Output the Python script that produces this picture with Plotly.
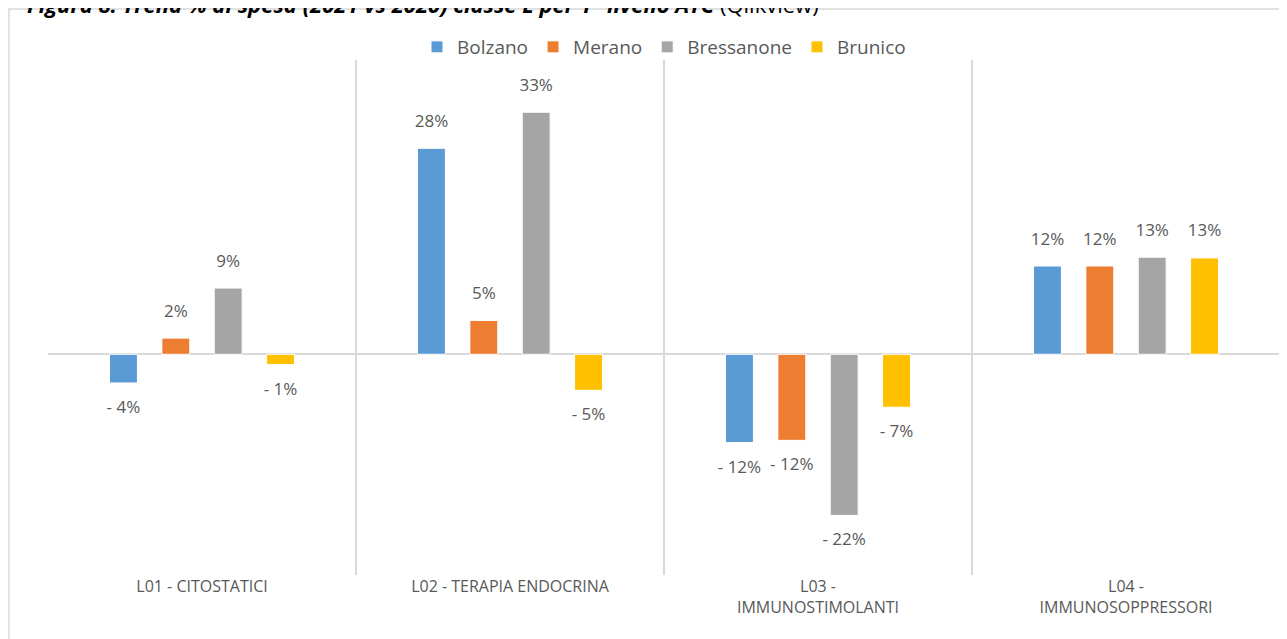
import plotly.graph_objects as go

categories = ["L01 - CITOSTATICI", "L02 - TERAPIA ENDOCRINA", "L03 -<br>IMMUNOSTIMOLANTI", "L04 -<br>IMMUNOSOPPRESSORI"]
series_names = ["Bolzano", "Merano", "Bressanone", "Brunico"]
bolzano = [-3.9, 28.0, -12.0, 12.0]
merano = [2.2, 4.6, -11.7, 12.0]
bressanone = [9.0, 32.9, -21.9, 13.2]
brunico = [-1.4, -4.9, -7.2, 13.1]
colors = ["#5B9BD5", "#ED7D31", "#A5A5A5", "#FFC000"]

title_bold = "Figura 8: Trend % di spesa (2021 vs 2020) classe L per 1° livello ATC"
title_plain = "(Qlikview)"

def fmt(v):
    r = round(v)
    return f"- {abs(r)}%" if r < 0 else f"{r}%"

FONT = "Open Sans, sans-serif"
GRAY = "#595959"

fig = go.Figure()
x = list(range(len(categories)))
all_vals = [bolzano, merano, bressanone, brunico]
for name, vals, col in zip(series_names, all_vals, colors):
    fig.add_trace(go.Bar(
        name=name, x=x, y=vals, offsetgroup=name,
        marker=dict(color=col, line=dict(color="white", width=1)),
        hoverinfo="x+y+name",
    ))
for name, vals in zip(series_names, all_vals):
    fig.add_trace(go.Scatter(
        x=x, y=vals, offsetgroup=name, mode="markers+text", showlegend=False,
        marker=dict(size=26, opacity=0), hoverinfo="skip",
        text=[fmt(v) for v in vals],
        textposition=["bottom center" if v < 0 else "top center" for v in vals],
        textfont=dict(family=FONT, size=17, color=GRAY), cliponaxis=False,
    ))

# page body has an 8px margin, so the figure starts at (8, 8) in the window
OFF = 8
W, H = 1287 - OFF, 639 - OFF
ml, mr, mt, mb = 48 - OFF, 7, 60 - OFF, 64
pw, ph = W - ml - mr, H - mt - mb

fig.update_layout(
    width=W, height=H, autosize=False,
    margin=dict(l=ml, r=mr, t=mt, b=mb, autoexpand=False),
    paper_bgcolor="white", plot_bgcolor="white",
    barmode="group", bargap=0.32, bargroupgap=0.467,
    scattermode="group", scattergap=0.32,
    font=dict(family=FONT, color=GRAY),
    showlegend=True,
    legend=dict(orientation="h", x=0.5, xanchor="center", y=1 + (60 - 47) / ph, yanchor="middle",
                font=dict(family=FONT, size=19, color=GRAY), itemwidth=30, tracegroupgap=0,
                bgcolor="rgba(0,0,0,0)"),
    xaxis=dict(range=[-0.5, 3.5], tickmode="array", tickvals=x, ticktext=categories,
               showgrid=False, zeroline=False, showline=False, ticks="",
               tickfont=dict(family=FONT, size=16, color=GRAY),
               minor=dict(showgrid=True, gridcolor="#D9D9D9", gridwidth=1.5, tick0=-0.5, dtick=1, ticks="")),
    yaxis=dict(range=[-30, 40], showgrid=False, showticklabels=False, zeroline=True,
               zerolinecolor="#D9D9D9", zerolinewidth=1.5, showline=False),
    shapes=[dict(type="rect", xref="paper", yref="paper",
                 x0=(9 - 48) / pw, x1=(1287 + 5 - 48) / pw,
                 y0=-(mb + 5) / ph, y1=1 + (60 - 9) / ph,
                 line=dict(color="#D9D9D9", width=1.5), fillcolor="rgba(0,0,0,0)", layer="below")],
    annotations=[dict(xref="paper", yref="paper", x=(25 - 48) / pw, xanchor="left",
                      y=1 + (mt - 13) / ph, yanchor="bottom", showarrow=False,
                      text=f"<b><i>{title_bold}</i></b> {title_plain}",
                      font=dict(family="Open Sans, sans-serif", size=22, color="black"))],
)

fig.write_html("out.html")
